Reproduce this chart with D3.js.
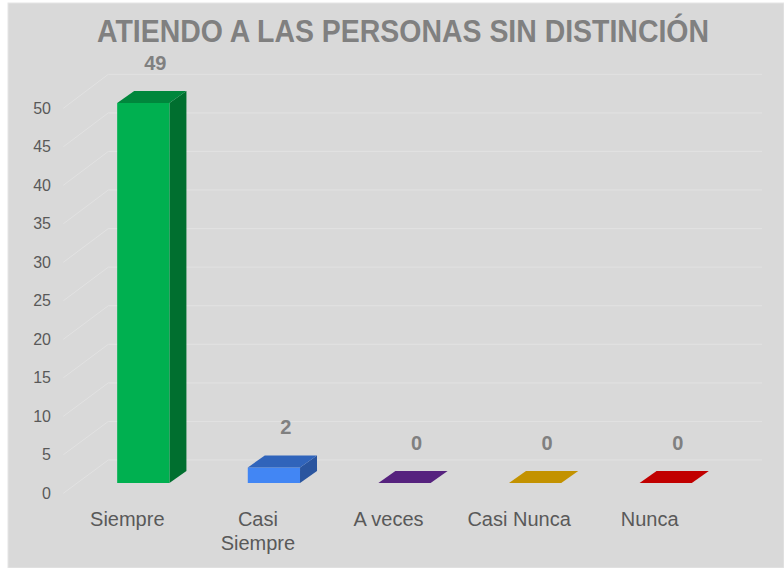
<!DOCTYPE html>
<html>
<head>
<meta charset="utf-8">
<script src="https://cdn.jsdelivr.net/npm/d3@7"></script>
<style>
  html, body { margin: 0; padding: 0; background: #ffffff; }
  svg { display: block; }
</style>
</head>
<body>
<svg width="784" height="568"></svg>
<script>
// datos del grafico
const categorias = ["Siempre", "Casi Siempre", "A veces", "Casi Nunca", "Nunca"];
const etiquetas = [["Siempre"], ["Casi", "Siempre"], ["A veces"], ["Casi Nunca"], ["Nunca"]];
const valores = [49, 2, 0, 0, 0];
const ticks = [0, 5, 10, 15, 20, 25, 30, 35, 40, 45, 50];
const titulo = "ATIENDO A LAS PERSONAS SIN DISTINCIÓN";

// colores: frente, arriba, lado
const colFrente = ["#00b050", "#4286f4", "#5b2483", "#c59300", "#c00000"];
const colArriba = ["#00873c", "#3064bb", "#56227e", "#c39200", "#c10000"];
const colLado = ["#006f2f", "#2a559f", "#4a1c6c", "#a87c00", "#a00000"];

const svg = d3.select("svg");

// fondo del area del grafico
svg.append("rect")
  .attr("x", 8).attr("y", 3)
  .attr("width", 776).attr("height", 565)
  .attr("fill", "#d9d9d9")
  .attr("stroke", "#e6e6e6");

// escalas
const x = d3.scaleBand().domain(categorias).range([78, 731]).paddingInner(0.6).paddingOuter(0.3);
const yBarra = d3.scaleLinear().domain([0, 50]).range([483, 95.25]);
const yFrente = d3.scaleLinear().domain([0, 50]).range([493.3, 108.3]);
const yFondo = d3.scaleLinear().domain([0, 50]).range([460, 74.3]);
const xFrente = 63.3, xFondo = 108.3, xFin = 762;
const prof = { dx: 17, dy: -12 };

// lineas de la cuadricula (pared del fondo y pared lateral)
ticks.forEach(t => {
  svg.append("line")
    .attr("x1", xFondo).attr("y1", yFondo(t))
    .attr("x2", xFin).attr("y2", yFondo(t))
    .attr("stroke", "#e2e2e2").attr("stroke-width", 1);
  svg.append("line")
    .attr("x1", xFrente).attr("y1", yFrente(t))
    .attr("x2", xFondo).attr("y2", yFondo(t))
    .attr("stroke", "#e2e2e2").attr("stroke-width", 1);
  svg.append("text")
    .attr("x", 51).attr("y", yFrente(t))
    .attr("dy", "0.35em")
    .attr("text-anchor", "end")
    .attr("font-family", "Liberation Sans, Arial, sans-serif")
    .attr("font-size", 16)
    .attr("fill", "#595959")
    .text(t);
});

// barras 3D
categorias.forEach((c, i) => {
  const x0 = x(c), x1 = x0 + x.bandwidth();
  const yT = yBarra(valores[i]), yB = yBarra(0);
  const g = svg.append("g");
  // lado
  g.append("polygon")
    .attr("points", [[x1, yT], [x1 + prof.dx, yT + prof.dy], [x1 + prof.dx, yB + prof.dy], [x1, yB]].join(" "))
    .attr("fill", colLado[i]);
  // frente
  g.append("rect")
    .attr("x", x0).attr("y", yT)
    .attr("width", x1 - x0).attr("height", yB - yT)
    .attr("fill", colFrente[i]);
  // arriba
  g.append("polygon")
    .attr("points", [[x0, yT], [x1, yT], [x1 + prof.dx, yT + prof.dy], [x0 + prof.dx, yT + prof.dy]].join(" "))
    .attr("fill", colArriba[i]);

  // etiqueta de valor
  svg.append("text")
    .attr("x", x0 + x.bandwidth() / 2 + 12)
    .attr("y", yT - 33)
    .attr("text-anchor", "middle")
    .attr("font-family", "Liberation Sans, Arial, sans-serif")
    .attr("font-weight", "bold")
    .attr("font-size", 20)
    .attr("fill", "#808080")
    .text(valores[i]);

  // etiqueta de categoria
  const t = svg.append("text")
    .attr("text-anchor", "middle")
    .attr("font-family", "Liberation Sans, Arial, sans-serif")
    .attr("font-size", 20)
    .attr("fill", "#595959");
  etiquetas[i].forEach((linea, k) => {
    t.append("tspan")
      .attr("x", x0 + x.bandwidth() / 2 - 16)
      .attr("y", 526 + k * 24)
      .text(linea);
  });
});

// titulo (letra angosta)
svg.append("text")
  .attr("x", 403).attr("y", 42)
  .attr("text-anchor", "middle")
  .attr("font-family", "Liberation Sans, Arial, sans-serif")
  .attr("font-weight", "bold")
  .attr("font-size", 31)
  .attr("textLength", 612)
  .attr("lengthAdjust", "spacingAndGlyphs")
  .attr("fill", "#808080")
  .text(titulo);
</script>
</body>
</html>
